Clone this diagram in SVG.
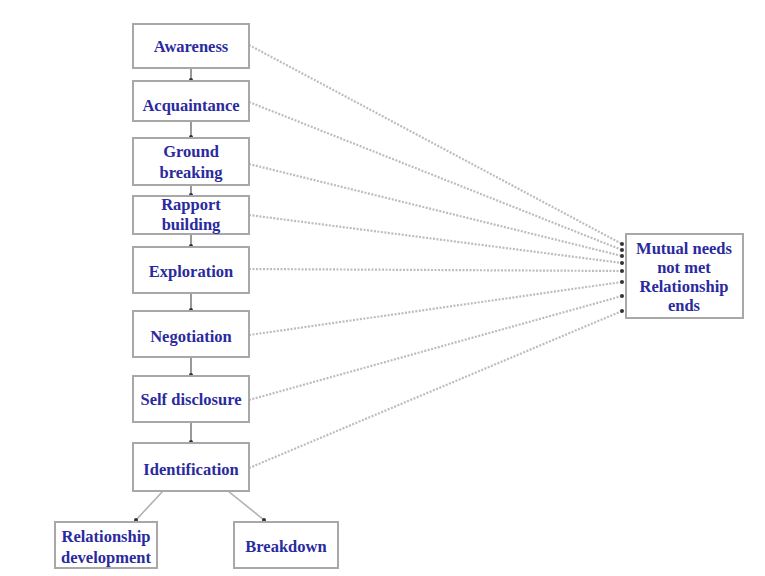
<svg xmlns="http://www.w3.org/2000/svg" width="765" height="576" viewBox="0 0 765 576">
<defs>
<style>
.box{fill:#ffffff;stroke:#a8a8a8;stroke-width:2}
.t{font-family:"Liberation Serif","Times New Roman",serif;font-weight:bold;font-size:16.5px;fill:#2a2a9e;text-anchor:middle}
.v{stroke:#555;stroke-width:1.2;fill:none}
.d{stroke:#bdbdbd;stroke-width:2.2;stroke-dasharray:2 1.5;fill:none}
.s{stroke:#b0b0b0;stroke-width:1.6;fill:none}
</style>
<marker id="dot" viewBox="0 0 6 6" refX="3" refY="3" markerWidth="4" markerHeight="4" markerUnits="userSpaceOnUse"><circle cx="3" cy="3" r="3" fill="#333"/></marker>
</defs>
<rect width="765" height="576" fill="#ffffff"/>
<g id="connectors">
<line class="v" x1="191" y1="68" x2="191" y2="80" marker-end="url(#dot)"/>
<line class="v" x1="191" y1="121" x2="191" y2="137" marker-end="url(#dot)"/>
<line class="v" x1="191" y1="185" x2="191" y2="195" marker-end="url(#dot)"/>
<line class="v" x1="191" y1="234" x2="191" y2="246" marker-end="url(#dot)"/>
<line class="v" x1="191" y1="293" x2="191" y2="310" marker-end="url(#dot)"/>
<line class="v" x1="191" y1="357" x2="191" y2="375" marker-end="url(#dot)"/>
<line class="v" x1="191" y1="422" x2="191" y2="442" marker-end="url(#dot)"/>
<line class="s" x1="163" y1="491" x2="136" y2="520" marker-end="url(#dot)"/>
<line class="s" x1="228" y1="491" x2="264" y2="520" marker-end="url(#dot)"/>
<line class="d" x1="249" y1="45" x2="622" y2="244" marker-end="url(#dot)"/>
<line class="d" x1="249" y1="102" x2="622" y2="250" marker-end="url(#dot)"/>
<line class="d" x1="249" y1="164" x2="622" y2="256" marker-end="url(#dot)"/>
<line class="d" x1="249" y1="215" x2="622" y2="263" marker-end="url(#dot)"/>
<line class="d" x1="249" y1="269" x2="622" y2="271" marker-end="url(#dot)"/>
<line class="d" x1="249" y1="335" x2="622" y2="282" marker-end="url(#dot)"/>
<line class="d" x1="249" y1="400" x2="622" y2="296" marker-end="url(#dot)"/>
<line class="d" x1="249" y1="468" x2="622" y2="311" marker-end="url(#dot)"/>
</g>
<g id="awareness"><rect class="box" x="133" y="24" width="116" height="44"/><text class="t" x="191" y="52">Awareness</text></g>
<g id="acquaintance"><rect class="box" x="133" y="81" width="116" height="40"/><text class="t" x="191" y="111">Acquaintance</text></g>
<g id="ground-breaking"><rect class="box" x="133" y="138" width="116" height="47"/><text class="t" x="191" y="157">Ground</text><text class="t" x="191" y="178">breaking</text></g>
<g id="rapport-building"><rect class="box" x="133" y="196" width="116" height="38"/><text class="t" x="191" y="210">Rapport</text><text class="t" x="191" y="230">building</text></g>
<g id="exploration"><rect class="box" x="133" y="247" width="116" height="46"/><text class="t" x="191" y="277">Exploration</text></g>
<g id="negotiation"><rect class="box" x="133" y="311" width="116" height="46"/><text class="t" x="191" y="342">Negotiation</text></g>
<g id="self-disclosure"><rect class="box" x="133" y="376" width="116" height="46"/><text class="t" x="191" y="405">Self disclosure</text></g>
<g id="identification"><rect class="box" x="133" y="443" width="116" height="48"/><text class="t" x="191" y="475">Identification</text></g>
<g id="relationship-development"><rect class="box" x="55" y="522" width="102" height="46"/><text class="t" x="106" y="542">Relationship</text><text class="t" x="106" y="563">development</text></g>
<g id="breakdown"><rect class="box" x="234" y="522" width="104" height="46"/><text class="t" x="286" y="552">Breakdown</text></g>
<g id="mutual-needs"><rect class="box" x="626" y="234" width="117" height="84"/><text class="t" x="684" y="254">Mutual needs</text><text class="t" x="684" y="273">not met</text><text class="t" x="684" y="292">Relationship</text><text class="t" x="684" y="311">ends</text></g>
</svg>
